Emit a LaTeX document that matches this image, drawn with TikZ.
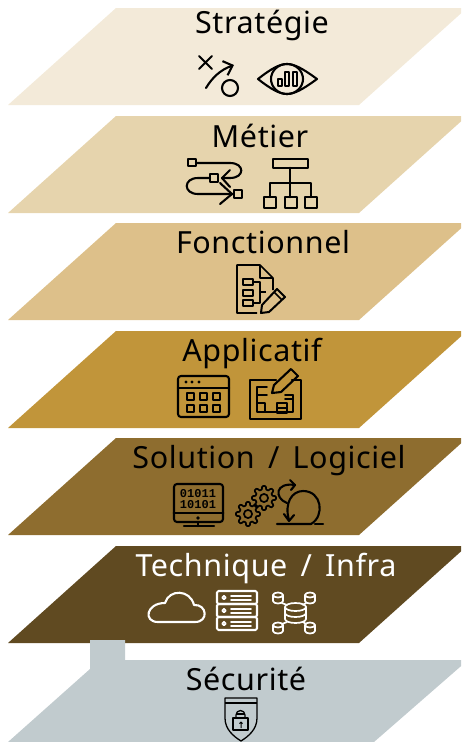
\documentclass[tikz,border=0pt]{standalone}
\usepackage{fontspec}
\setmainfont[LetterSpace=2, WordSpace=1.55]{Noto Sans}
\newfontfamily\binfont{Liberation Mono}
\usetikzlibrary{arrows.meta}
\definecolor{strategiecol}{HTML}{F3EAD9}
\definecolor{metiercol}{HTML}{E6D4AD}
\definecolor{fonctionnelcol}{HTML}{DDC08A}
\definecolor{applicatifcol}{HTML}{C1953A}
\definecolor{solutioncol}{HTML}{8E6D2F}
\definecolor{techniquecol}{HTML}{604A21}
\definecolor{securitecol}{HTML}{C1CBCE}
\tikzset{
  title/.style={anchor=base, inner sep=0pt, font=\fontsize{30.5}{30.5}\selectfont},
  icon/.style={line width=2.1pt, line cap=round, line join=round},
  thin icon/.style={line width=1.7pt, line join=round},
  head/.style={-{Straight Barb[length=8pt, width=15pt]}}
}
% one gear: centre, outer radius
\newcommand{\gearicon}[3]{
  \draw[thin icon] (#1, #2) circle ({0.34*#3});
  \draw[line width=1.7pt, line join=round] plot[samples at={0,5,...,355}] (
    {#1+#3*(0.86+0.14*min(1,max(-1,2.5*cos(8*\x))))*cos(\x)},
    {#2+#3*(0.86+0.14*min(1,max(-1,2.5*cos(8*\x))))*sin(\x)}) -- cycle;
}

\begin{document}
\begin{tikzpicture}[x=1pt, y=-1pt]
  \useasboundingbox (0, 0) rectangle (461, 742);
  \clip (0, 0) rectangle (461, 742);

%%%%%%%%%%%% Layers
  \foreach \y/\col in {8/strategiecol, 116/metiercol, 223/fonctionnelcol,
    331/applicatifcol, 438/solutioncol, 546/techniquecol}
    \fill[\col] (116, \y) -- (467, \y) -- (359, \y+97) -- (8, \y+97) -- cycle;
  \fill[securitecol] (90, 640) -- (125, 640) -- (125, 660) -- (468, 660)
    -- (374, 742) -- (8, 742) -- (90, 669) -- cycle;

  \node[title] (strategie) at (262, 33) {Stratégie};
  \node[title] (metier) at (260, 147) {Métier};
  \node[title] (fonctionnel) at (263, 253) {Fonctionnel};
  \node[title] (applicatif) at (252, 361) {Applicatif};
  \node[title] (solution) at (269, 468) {Solution / Logiciel};
  \node[title, text=white] (technique) at (266, 576) {Technique / Infra};
  \node[title] (securite) at (246, 690) {Sécurité};

%%%%%%%%%%%% Strategie
  \begin{scope}[icon]
    \draw (199, 56) -- (212, 69) (212, 56) -- (199, 69);
    \draw[head] (206, 88) .. controls (212, 78) and (220, 70) .. (234, 65);
    \draw (230, 88) circle (8);
    \draw (258, 79) .. controls (272, 68) and (280, 64) .. (287, 64)
      .. controls (294, 64) and (302, 68) .. (317, 79)
      .. controls (302, 90) and (294, 94) .. (287, 94)
      .. controls (280, 94) and (272, 90) .. (258, 79) -- cycle;
    \draw (287, 79) ellipse (16 and 15);
    \draw[thin icon] (278, 79) rectangle (282, 86);
    \draw[thin icon] (285, 72) rectangle (289, 86);
    \draw[thin icon] (293, 72) rectangle (297, 86);
  \end{scope}

%%%%%%%%%%%% Metier
  \begin{scope}[icon]
    \draw (188, 159) rectangle (196, 166);
    \draw (210, 174) rectangle (218, 182);
    \draw (234, 190) rectangle (242, 198);
    \draw (196, 163) -- (230, 163) .. controls (245, 163) and (245, 178) .. (230, 178) -- (222, 178);
    \draw (230, 170) -- (222, 178) -- (230, 187);
    \draw (210, 178) -- (198, 178) .. controls (183, 178) and (183, 194) .. (198, 194) -- (233, 194);
    \draw (220, 183) -- (232, 194) -- (220, 204);
    \draw (273, 159) rectangle (308, 168);
    \draw[line width=2.6pt] (290, 168) -- (290, 197);
    \draw (270, 197) -- (270, 183) -- (311, 183) -- (311, 197);
    \foreach \i in {264, 285, 305}
      \draw (\i, 197) rectangle (\i+12, 208);
  \end{scope}

%%%%%%%%%%%% Fonctionnel
  \begin{scope}[thin icon]
    \draw (257, 313) -- (237, 313) -- (237, 265) -- (260, 265) -- (273, 278) -- (273, 290);
    \draw (260, 265) -- (260, 278) -- (273, 278);
    \foreach \y in {279, 290, 300}
      \draw[line width=2pt] (243, \y) rectangle (253, \y+6);
    \draw (253, 282) -- (260, 282) -- (260, 303) -- (253, 303);
    \draw (260, 292) -- (266, 292);
    \draw[line width=2pt] (277, 289) -- (285, 297) -- (269, 312) -- (261, 313) -- (262, 305) -- cycle;
    \draw (274, 292) -- (282, 300);
  \end{scope}

%%%%%%%%%%%% Applicatif
  \begin{scope}[icon]
    \draw[rounded corners=3pt] (178, 376) rectangle (229, 417);
    \draw (178, 388) -- (229, 388);
    \foreach \i in {186, 192, 199}
      \fill (\i, 382) circle (1.6);
    \foreach \i in {187, 200, 213} {
      \draw (\i, 393) rectangle (\i+7, 400);
      \draw (\i, 405) rectangle (\i+7, 412);
    }
    \draw (276, 380) -- (250, 380) -- (250, 419) -- (301, 419) -- (301, 380) -- (292, 380);
    \draw (291, 369) -- (298, 376) -- (281, 392) -- (272, 393) -- (274, 385) -- cycle;
    \draw[thin icon] (267, 387) -- (257, 387) -- (257, 412) -- (293, 412) -- (293, 395);
    \draw[thin icon] (257, 395) -- (267, 395) (257, 403) -- (265, 403) -- (265, 412);
    \draw[thin icon] (285, 395) -- (293, 395) (285, 399) -- (293, 399);
    \draw[thin icon] (277, 403) rectangle (287, 413);
    \draw[thin icon] (277, 408) -- (287, 408);
  \end{scope}

%%%%%%%%%%%% Solution
  \begin{scope}[icon]
    \draw[rounded corners=3pt] (174, 484) rectangle (223, 522);
    \draw[line width=2.8pt] (174, 513) -- (223, 513);
    \fill (198, 518) circle (1.8);
    \draw (198, 522) -- (198, 526) (184, 526) -- (214, 526);
    \node[inner sep=0pt, font=\binfont\bfseries\fontsize{12}{12}\selectfont] (bina) at (198, 494) {01011};
    \node[inner sep=0pt, font=\binfont\bfseries\fontsize{12}{12}\selectfont] (binb) at (198, 505) {10101};
    \gearicon{264}{498}{12}
    \gearicon{248}{514}{12}
    \draw (277, 524) -- (311, 524) .. controls (325, 516) and (322, 491) .. (303, 491)
      .. controls (292, 491) and (284, 503) .. (289, 520);
    \draw (284, 514) -- (289, 521) -- (294, 515);
    \draw (315, 524) -- (323, 524);
    \draw (287, 503) .. controls (274, 498) and (275, 482) .. (295, 485);
    \draw (290, 480) -- (295, 485) -- (291, 490);
  \end{scope}

%%%%%%%%%%%% Technique
  \begin{scope}[icon, white]
    \draw (158, 622) -- (195, 622) .. controls (209, 622) and (207, 604) .. (194, 605)
      .. controls (190, 589) and (169, 589) .. (165, 603)
      .. controls (146, 603) and (143, 622) .. (158, 622) -- cycle;
    \foreach \y in {591, 604, 617} {
      \draw[rounded corners=1.5pt] (217, \y) rectangle (257, \y+13);
      \draw[thin icon] (224, \y+6.5) circle (1.8);
      \draw[thin icon] (231, \y+5) -- (251, \y+5) (231, \y+9) -- (251, \y+9);
    }
    \foreach \x/\y in {278/598, 310/598, 278/628, 310/628} {
      \draw[thin icon] (\x-5, \y-3) -- (\x-5, \y+3) arc (180:0:5 and 2.5) -- (\x+5, \y-3);
      \draw[thin icon] (\x, \y-3) ellipse (5 and 2.5);
    }
    \draw[thin icon] (285, 607) -- (285, 619) arc (180:0:10.5 and 4) -- (306, 607);
    \draw[thin icon] (295.5, 607) ellipse (10.5 and 4);
    \draw[thin icon] (285, 613) arc (180:0:10.5 and 4);
    \draw[thin icon] (282, 603) -- (287, 605) (306, 603) -- (303, 605)
      (287, 622) -- (282, 624) (303, 622) -- (306, 624);
  \end{scope}

%%%%%%%%%%%% Securite
  \begin{scope}[line width=1.3pt, line join=round]
    \draw (225, 698) -- (257, 698) -- (257, 718) .. controls (257, 729) and (249, 736) .. (241, 741)
      .. controls (233, 736) and (225, 729) .. (225, 718) -- cycle;
    \draw (225, 703) -- (257, 703);
    \draw (233, 718) rectangle (248, 730);
    \draw (236, 718) -- (236, 715) arc (180:360:4.5) -- (245, 718);
    \draw (236, 714) -- (245, 714);
    \draw[line width=1pt] (241, 728) -- (241, 722) (239.5, 723.5) -- (241, 722) -- (242.5, 723.5);
  \end{scope}
\end{tikzpicture}
\end{document}
